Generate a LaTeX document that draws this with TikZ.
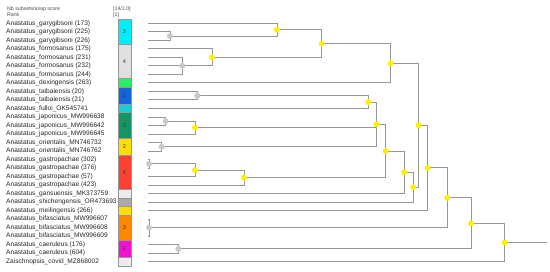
\documentclass[tikz,border=0pt]{standalone}
\usepackage{fontspec}
\setmainfont{Liberation Sans}
\usepackage{xcolor}
\usetikzlibrary{positioning}
\pgfdeclarelayer{background}
\pgfsetlayers{background,main}

\definecolor{branchgray}{RGB}{150,150,150}
\definecolor{dotyellow}{RGB}{255,240,0}
\definecolor{dotgray}{RGB}{200,200,200}
\definecolor{segcyan}{RGB}{0,238,250}
\definecolor{seglight}{RGB}{224,224,224}
\definecolor{segpale}{RGB}{236,236,236}
\definecolor{seggreen}{RGB}{40,240,100}
\definecolor{segblue}{RGB}{20,100,220}
\definecolor{segteal}{RGB}{30,205,205}
\definecolor{segdkgreen}{RGB}{20,150,100}
\definecolor{segyellow}{RGB}{255,222,0}
\definecolor{segred}{RGB}{250,65,50}
\definecolor{seggray}{RGB}{170,170,170}
\definecolor{segorange}{RGB}{255,136,0}
\definecolor{segmagenta}{RGB}{240,20,210}

\begin{document}
\begin{tikzpicture}[
        x=1pt, y=-1pt,
        taxon/.style={anchor=west, inner sep=0pt, font=\fontsize{6.6}{7.5}\selectfont, text=black!85},
        header/.style={anchor=west, inner sep=0pt, font=\fontsize{5.2}{6}\selectfont, text=black!70},
        seg/.style={draw=branchgray, line width=0.6pt, minimum width=13pt, inner sep=0pt, font=\fontsize{5.5}{6}\selectfont, text=black!80},
        ydot/.style={circle, fill=dotyellow, inner sep=0pt, minimum size=6pt},
        gdot/.style={circle, fill=dotgray, inner sep=0pt, minimum size=6pt},
        branch/.style={draw=branchgray, line width=0.9pt}
    ]
    \useasboundingbox (0,0) rectangle (550,271);

    % Headers
    \node [header] (nbhead) at (7,9) {Nb subsets/asap score};
    \node [header, below=0.9pt of nbhead.south west, anchor=north west] (rankhead) {Rank};
    \node [header] (scorehead) at (113,9) {[14/1.0]};
    \node [header, below=0.9pt of scorehead.south west, anchor=north west] (rankval) {[1]};

    % Taxa
    \foreach \t [count=\i from 0] in {
        Anastatus\_garygibsoni (173), Anastatus\_garygibsoni (225), Anastatus\_garygibsoni (226),
        Anastatus\_formosanus (175), Anastatus\_formosanus (231), Anastatus\_formosanus (232),
        Anastatus\_formosanus (244), Anastatus\_dexingensis (263), Anastatus\_taibaiensis (20),
        Anastatus\_taibaiensis (21), Anastatus\_fulloi\_OK545741, Anastatus\_japonicus\_MW996638,
        Anastatus\_japonicus\_MW996642, Anastatus\_japonicus\_MW996645, Anastatus\_orientalis\_MN746732,
        Anastatus\_orientalis\_MN746762, Anastatus\_gastropachae (302), Anastatus\_gastropachae (376),
        Anastatus\_gastropachae (57), Anastatus\_gastropachae (423), Anastatus\_gansuensis\_MK373759,
        Anastatus\_shichengensis\_OR473693, Anastatus\_meilingensis (266), Anastatus\_bifasciatus\_MW996607,
        Anastatus\_bifasciatus\_MW996608, Anastatus\_bifasciatus\_MW996609, Anastatus\_caeruleus (176),
        Anastatus\_caeruleus (604), Zaischnopsis\_covid\_MZ868002} {
        \node [taxon] (t\i) at (6, {23.3+8.514*\i}) {\t};
        \coordinate (l\i) at (147.5, {23.3+8.514*\i});
    }

    % Subset column
    \foreach \a/\b/\c/\n in {0/2/segcyan/3, 3/6/seglight/4, 7/7/seggreen/{}, 8/9/segblue/2,
        10/10/segteal/{}, 11/13/segdkgreen/3, 14/15/segyellow/2, 16/19/segred/4,
        20/20/segpale/{}, 21/21/seggray/{}, 22/22/segyellow/{}, 23/25/segorange/3,
        26/27/segmagenta/2, 28/28/segpale/{}} {
        \node [seg, fill=\c, minimum height={(\b-\a+1)*8.514pt}] (s\a) at (124.5, {23.3+4.257*(\a+\b)}) {\n};
    }

    % Tree nodes
    \node [gdot] (n12) at (170, 36.07) {};
    \node [ydot] (n012) at (277, 29.69) {};
    \node [gdot] (n456) at (182.3, 65.87) {};
    \node [ydot] (n3456) at (212, 57.36) {};
    \node [ydot] (nA) at (321.7, 43.52) {};
    \node [ydot] (nB) at (390.7, 63.21) {};
    \node [gdot] (n89) at (197.3, 95.67) {};
    \node [ydot] (n810) at (368.3, 102.06) {};
    \node [gdot] (n1112) at (165.7, 121.21) {};
    \node [ydot] (n1113) at (195, 127.6) {};
    \node [gdot] (n1415) at (161.7, 146.75) {};
    \node [ydot] (nC) at (376.5, 124.41) {};
    \node [gdot] (n1617) at (149, 163.78) {};
    \node [ydot] (n1618) at (195, 170.17) {};
    \node [ydot] (n1619) at (244, 177.62) {};
    \node [ydot] (nD) at (385.7, 151.02) {};
    \node [ydot] (nE) at (404, 172.3) {};
    \node [ydot] (nF) at (413.3, 187.2) {};
    \node [ydot] (nG) at (418.5, 125.2) {};
    \node [ydot] (nH) at (427.7, 167.9) {};
    \node [gdot] (n2325) at (149, 227.64) {};
    \node [ydot] (nI) at (447.3, 197.77) {};
    \node [gdot] (n2627) at (178.3, 248.92) {};
    \node [ydot] (nJ) at (471, 223.35) {};
    \node [ydot] (nK) at (504.7, 242.52) {};
    \coordinate (root) at (547.3, 242.52);

    % Branches
    \begin{pgfonlayer}{background}
    \foreach \p/\c in {n12/l1, n12/l2, n012/l0, n012/n12, n456/l4, n456/l5, n456/l6,
        n3456/l3, n3456/n456, nA/n012, nA/n3456, nB/nA, nB/l7, n89/l8, n89/l9,
        n810/n89, n810/l10, n1112/l11, n1112/l12, n1113/n1112, n1113/l13,
        n1415/l14, n1415/l15, nC/n810, nC/n1113, nC/n1415, n1617/l16, n1617/l17,
        n1618/n1617, n1618/l18, n1619/n1618, n1619/l19, nD/nC, nD/n1619,
        nE/nD, nE/l20, nF/nE, nF/l21, nG/nB, nG/nF, nH/nG, nH/l22,
        n2325/l23, n2325/l24, n2325/l25, nI/nH, nI/n2325, n2627/l26, n2627/l27,
        nJ/nI, nJ/n2627, nK/nJ, nK/l28}
        \path [branch] (\p.center) |- (\c.center);
    \path [branch] (nK.center) -- (root);
    \end{pgfonlayer}

\end{tikzpicture}
\end{document}
